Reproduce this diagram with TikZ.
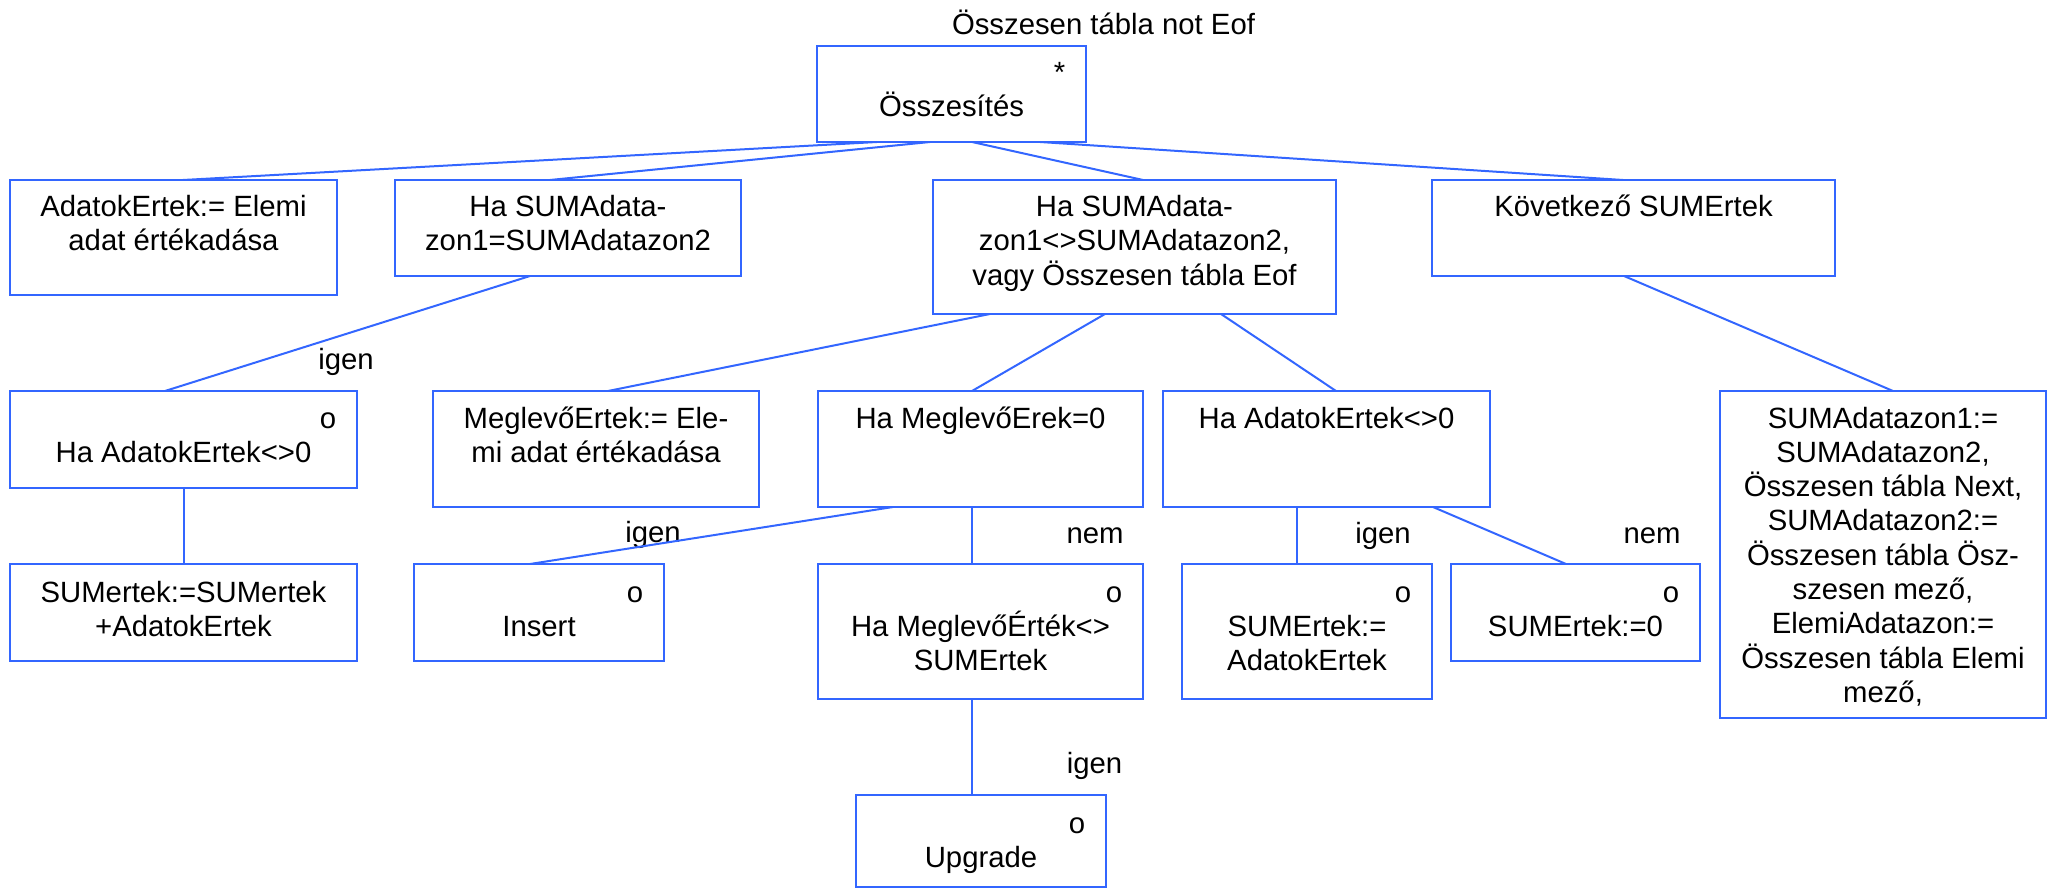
\documentclass[tikz,border=0pt]{standalone}
\usepackage{fontspec}
\setmainfont{Liberation Sans}
\definecolor{jblue}{RGB}{51,102,255}
\tikzset{
  jbox/.style={draw=jblue, line width=2.5pt, rectangle, inner sep=0pt, outer sep=0pt},
  conn/.style={draw=jblue, line width=2pt},
  txt/.style={anchor=base, inner sep=0pt, outer sep=0pt, font=\fontsize{29.3}{34}\selectfont},
}
\newcommand\mybox[5]{\node[jbox, minimum width={(#4)-(#2)}, minimum height={(#5)-(#3)}] (#1) at ({((#2)+(#4))/2},{((#3)+(#5))/2}) {};}
\newcommand\mytxt[4]{\node[txt] (#1) at (#2,#3) {\begin{tabular}[t]{@{}c@{}}#4\end{tabular}};}
\begin{document}
\begin{tikzpicture}[x=1pt,y=-1pt]
\useasboundingbox (0,0) rectangle (2053,890);
% boxes
\mybox{T}{817}{46}{1086}{142}
\mybox{A}{10}{180}{337}{295}
\mybox{B}{395}{180}{741}{276}
\mybox{C}{933}{180}{1336}{314}
\mybox{D}{1432}{180}{1835}{276}
\mybox{E}{10}{391}{357}{488}
\mybox{F}{433}{391}{759}{507}
\mybox{G}{818}{391}{1143}{507}
\mybox{H}{1163}{391}{1490}{507}
\mybox{I}{1720}{391}{2046}{718}
\mybox{J}{10}{564}{357}{661}
\mybox{K}{414}{564}{664}{661}
\mybox{L}{818}{564}{1143}{699}
\mybox{M}{1182}{564}{1432}{699}
\mybox{N}{1451}{564}{1700}{661}
\mybox{O}{856}{795}{1106}{887}
% texts
\mytxt{title}{1103.5}{35}{Összesen tábla not Eof}
\mytxt{sT}{1059.5}{83}{*}
\mytxt{tT}{951.5}{117}{Összesítés}
\mytxt{tA}{173.5}{217}{AdatokErtek:= Elemi\\adat értékadása}
\mytxt{tB}{568}{217}{Ha SUMAdata-\\zon1=SUMAdatazon2}
\mytxt{tC}{1134.5}{217}{Ha SUMAdata-\\zon1<>SUMAdatazon2,\\vagy Összesen tábla Eof}
\mytxt{tD}{1633.5}{217}{Következő SUMErtek}
\mytxt{oE}{328}{428}{o}
\mytxt{tE}{183.5}{462}{Ha AdatokErtek<>0}
\mytxt{tF}{596}{428}{MeglevőErtek:= Ele-\\mi adat értékadása}
\mytxt{tG}{980.5}{428}{Ha MeglevőErek=0}
\mytxt{tH}{1326.5}{428}{Ha AdatokErtek<>0}
\mytxt{tI}{1883}{428}{SUMAdatazon1:=\\SUMAdatazon2,\\Összesen tábla Next,\\SUMAdatazon2:=\\Összesen tábla Ösz-\\szesen mező,\\ElemiAdatazon:=\\Összesen tábla Elemi\\mező,}
\mytxt{tJ}{183.5}{602}{SUMertek:=SUMertek\\+AdatokErtek}
\mytxt{oK}{635}{602}{o}
\mytxt{tK}{539}{636}{Insert}
\mytxt{oL}{1114}{602}{o}
\mytxt{tL}{980.5}{636}{Ha MeglevőÉrték<>\\SUMErtek}
\mytxt{oM}{1403}{602}{o}
\mytxt{tM}{1307}{636}{SUMErtek:=\\AdatokErtek}
\mytxt{oN}{1671}{602}{o}
\mytxt{tN}{1575.5}{636}{SUMErtek:=0}
\mytxt{oO}{1077}{833}{o}
\mytxt{tO}{981}{867}{Upgrade}
% connector labels
\mytxt{l1}{346}{370}{igen}
\mytxt{l2}{653}{542}{igen}
\mytxt{l3}{1095}{543}{nem}
\mytxt{l4}{1383}{543}{igen}
\mytxt{l5}{1652}{543}{nem}
\mytxt{l6}{1094.5}{773}{igen}
% connectors
\draw[conn] ([xshift=60pt]T.south west) -- ([xshift=173pt]A.north west);
\draw[conn] ([xshift=113pt]T.south west) -- ([xshift=155pt]B.north west);
\draw[conn] ([xshift=155pt]T.south west) -- ([xshift=210pt]C.north west);
\draw[conn] ([xshift=223pt]T.south west) -- ([xshift=191pt]D.north west);
\draw[conn] ([xshift=135pt]B.south west) -- ([xshift=155pt]E.north west);
\draw[conn] ([xshift=57pt]C.south west) -- ([xshift=175pt]F.north west);
\draw[conn] ([xshift=172pt]C.south west) -- ([xshift=154pt]G.north west);
\draw[conn] ([xshift=288pt]C.south west) -- ([xshift=173pt]H.north west);
\draw[conn] ([xshift=192pt]D.south west) -- ([xshift=173pt]I.north west);
\draw[conn] ([xshift=174pt]E.south west) -- ([xshift=174pt]J.north west);
\draw[conn] ([xshift=75pt]G.south west) -- ([xshift=116pt]K.north west);
\draw[conn] ([xshift=154pt]G.south west) -- ([xshift=154pt]L.north west);
\draw[conn] ([xshift=134pt]H.south west) -- ([xshift=115pt]M.north west);
\draw[conn] ([xshift=270pt]H.south west) -- ([xshift=115pt]N.north west);
\draw[conn] ([xshift=154pt]L.south west) -- ([xshift=116pt]O.north west);
\end{tikzpicture}
\end{document}
